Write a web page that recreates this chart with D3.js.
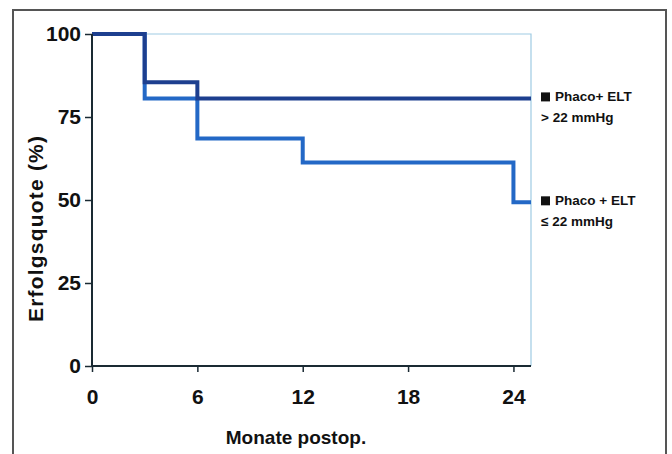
<!DOCTYPE html>
<html><head><meta charset="utf-8">
<script src="https://cdn.jsdelivr.net/npm/d3@7"></script>
<style>body{margin:0;background:#fff}svg{display:block}text{font-family:"Liberation Sans",Arial,sans-serif;font-weight:bold}</style>
</head><body><svg id="c" width="672" height="454"></svg>
<script>
const xTicks = [0, 6, 12, 18, 24];
const yTicks = [0, 25, 50, 75, 100];
// Kaplan-Meier step curves: [month, rate]
const seriesAbove = [[0, 100], [3, 85.5], [6, 80.6], [25, 80.6]];
const seriesBelow = [[0, 100], [3, 80.6], [6, 68.5], [12, 61.3], [24, 49.3], [25, 49.3]];
const legendLabels = [["Phaco+ ELT", "> 22 mmHg"], ["Phaco + ELT", "\u2264 22 mmHg"]];
const legendValues = [80.6, 49.3];

const svg = d3.select("#c");
const x = d3.scaleLinear().domain([0, 25]).range([92, 531]);
const y = d3.scaleLinear().domain([0, 100]).range([366, 34]);

// outer frame
svg.append("path").attr("d", "M13,460 V10 H666 V460").attr("fill", "none").attr("stroke", "#555").attr("stroke-width", 2);

// light plot frame (top/right)
svg.append("path").attr("d", `M${x(0)},${y(100)} H${x(25)} V${y(0)}`).attr("fill", "none").attr("stroke", "#9fcbe3").attr("stroke-width", 1.2);

const line = d3.line().x(d => x(d[0])).y(d => y(d[1])).curve(d3.curveStepAfter);
svg.append("path").datum(seriesBelow).attr("d", line).attr("fill", "none").attr("stroke", "#2368c6").attr("stroke-width", 4);
svg.append("path").datum(seriesAbove).attr("d", line).attr("fill", "none").attr("stroke", "#1d3f8f").attr("stroke-width", 4);

// axes
const yAxis = svg.append("g").attr("transform", `translate(${x(0)},0)`).call(d3.axisLeft(y).tickValues(yTicks).tickSize(7).tickPadding(4));
const xAxis = svg.append("g").attr("transform", `translate(0,${y(0)})`).call(d3.axisBottom(x).tickValues(xTicks).tickSize(6).tickPadding(17));
[yAxis, xAxis].forEach(g => {
  g.select(".domain").attr("stroke", "#1a2a33").attr("stroke-width", 2);
  g.selectAll(".tick line").attr("stroke", "#1a2a33").attr("stroke-width", 1.5);
  g.selectAll("text").attr("font-size", 21).attr("fill", "#111").attr("font-family", "Liberation Sans, Arial, sans-serif").attr("font-weight", "bold");
});
xAxis.select(".domain").attr("d", `M${x(0)},0H${x(25)}`);
yAxis.select(".domain").attr("d", `M0,${y(100)}V${y(0)}`);

// axis titles
svg.append("text").attr("transform", `translate(43,229) rotate(-90)`).attr("text-anchor", "middle")
  .attr("font-size", 21).attr("fill", "#111").attr("textLength", 186).attr("lengthAdjust", "spacing").text("Erfolgsquote  (%)");
svg.append("text").attr("x", 296).attr("y", 444).attr("text-anchor", "middle").attr("font-size", 19).attr("fill", "#111").text("Monate postop.");

// legend
legendLabels.forEach((lab, i) => {
  const yy = y(legendValues[i]);
  const g = svg.append("g");
  g.append("rect").attr("x", 541).attr("y", yy - 6).attr("width", 9).attr("height", 9).attr("fill", "#111");
  g.append("text").attr("x", 555).attr("y", yy + 3).attr("font-size", 13.5).attr("fill", "#111").text(lab[0]);
  g.append("text").attr("x", 541).attr("y", yy + 24).attr("font-size", 13.5).attr("fill", "#111").text(lab[1]);
});
</script></body></html>
